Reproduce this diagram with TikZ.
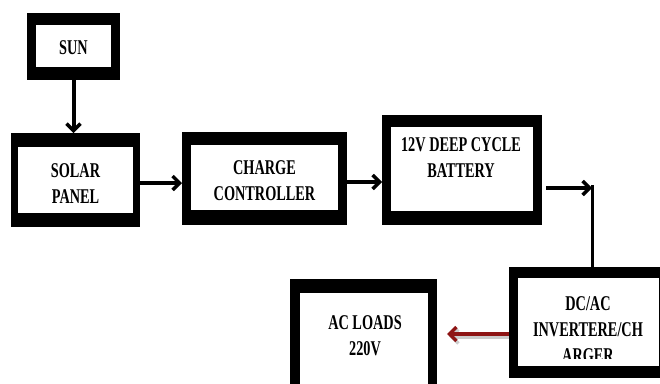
\documentclass[tikz,border=0pt]{standalone}
\usepackage{fontspec}
\newfontfamily\boxfont{Liberation Serif}[FakeStretch=0.68]
\usetikzlibrary{arrows.meta}
\definecolor{darkred}{HTML}{8E1414}
\tikzset{
  outerbox/.style={fill=black, inner sep=0pt, outer sep=0pt, draw=none},
  innerbox/.style={fill=white, inner sep=0pt, outer sep=0pt, draw=none},
  lbl/.style={font=\boxfont\bfseries\fontsize{21}{26}\selectfont, align=center, inner sep=0pt, anchor=base},
  tip/.style={-{Straight Barb[length=7pt,width=14pt,line width=3.5pt]}},
  conn/.style={line width=4pt, tip},
}
\begin{document}
\begin{tikzpicture}[x=1pt,y=-1pt]
\useasboundingbox (0,0) rectangle (660,383);
\clip (0,0) rectangle (660,383);
% SUN
\node[outerbox, minimum width=93pt, minimum height=67pt] (sun) at (73.5,46.5) {};
\node[innerbox, minimum width=75pt, minimum height=42pt] (sunin) at (73.5,46) {};
\node[lbl] (sunt) at (73.5,54) {SUN};
% SOLAR PANEL
\node[outerbox, minimum width=129pt, minimum height=94pt] (sp) at (75.5,180) {};
\node[innerbox, minimum width=115pt, minimum height=66pt] (spin) at (75.5,180) {};
\node[lbl] (spt) at (75.5,203) {SOLAR\\PANEL};
% CHARGE CONTROLLER
\node[outerbox, minimum width=165pt, minimum height=93pt] (cc) at (264.5,178.5) {};
\node[innerbox, minimum width=147pt, minimum height=65pt] (ccin) at (264.5,177.5) {};
\node[lbl] (cct) at (264.5,200) {CHARGE\\CONTROLLER};
% BATTERY
\node[outerbox, minimum width=160pt, minimum height=110pt] (bat) at (462,170) {};
\node[innerbox, minimum width=142pt, minimum height=84pt] (batin) at (462,169) {};
\node[lbl] (batt) at (461,177) {12V DEEP CYCLE\\BATTERY};
% INVERTER
\node[outerbox, minimum width=156pt, minimum height=111pt] (inv) at (587,322.5) {};
\node[innerbox, minimum width=141pt, minimum height=88pt] (invin) at (588.5,322) {};
\begin{scope}
\clip (518,278) rectangle (660,358);
\node[lbl] (invt) at (588,362) {DC/AC\\INVERTERE/CH\\ARGER};
\end{scope}
% AC LOADS
\node[outerbox, minimum width=147pt, minimum height=116pt] (ac) at (363.5,337) {};
\node[innerbox, minimum width=128pt, minimum height=102pt] (acin) at (364,344) {};
\node[lbl] (act) at (365,355) {AC LOADS\\220V};
% connectors
\draw[conn] (sun.south) -- (sp.north -| sun.south);
\draw[conn] (sp.east |- 0,183) -- (cc.west |- 0,183);
\draw[conn] (cc.east |- 0,182) -- (bat.west |- 0,182);
\coordinate (turn) at (592,188);
\draw[conn, shorten <=4pt] (bat.east |- turn) -- (turn);
\draw[line width=3pt] (592,185) -- (inv.north -| turn);
\draw[line width=4pt, gray!40, tip] (inv.west |- 0,336.5) -- (449,336.5);
\draw[line width=4pt, darkred, tip] (inv.west |- 0,334) -- (447,334);
\end{tikzpicture}
\end{document}
